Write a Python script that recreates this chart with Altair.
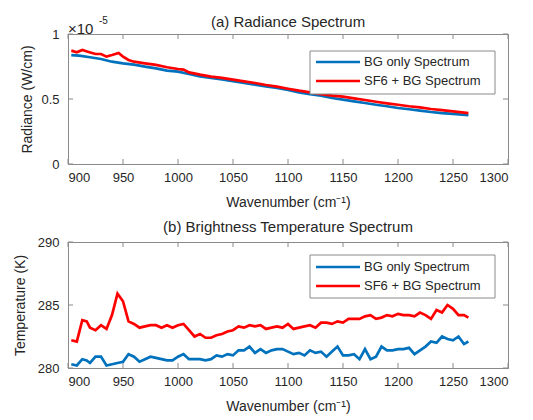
import altair as alt
import pandas as pd

# ---------------- data ----------------
series_names = ["BG only Spectrum", "SF6 + BG Spectrum"]
series_colors = ["#0072BD", "#FF0000"]

# (a) radiance, in units of 1e-5 W/cm
rad_bg_x = [903, 910, 920, 930, 940, 950, 960, 970, 980, 990, 1000, 1010, 1020, 1030,
            1040, 1050, 1060, 1070, 1080, 1090, 1100, 1110, 1120, 1130, 1140, 1150,
            1160, 1170, 1180, 1190, 1200, 1210, 1220, 1230, 1240, 1250, 1264]
rad_bg_y = [0.838, 0.833, 0.821, 0.808, 0.787, 0.774, 0.764, 0.749, 0.736, 0.718, 0.710,
            0.692, 0.674, 0.662, 0.651, 0.638, 0.623, 0.610, 0.597, 0.585, 0.569, 0.551,
            0.538, 0.526, 0.508, 0.495, 0.482, 0.469, 0.456, 0.444, 0.431, 0.421, 0.410,
            0.400, 0.392, 0.385, 0.375]
rad_sf_x = [903, 908, 913, 918, 925, 930, 935, 940, 946, 950, 955, 960, 970, 980, 990,
            1000, 1005, 1010, 1020, 1030, 1040, 1050, 1060, 1070, 1080, 1090, 1100, 1110,
            1120, 1130, 1140, 1150, 1160, 1170, 1180, 1190, 1200, 1210, 1220, 1230, 1240,
            1250, 1264]
rad_sf_y = [0.872, 0.859, 0.877, 0.864, 0.846, 0.846, 0.826, 0.838, 0.854, 0.826, 0.800,
            0.787, 0.774, 0.762, 0.744, 0.731, 0.726, 0.705, 0.687, 0.672, 0.662, 0.649,
            0.636, 0.623, 0.608, 0.595, 0.579, 0.564, 0.551, 0.538, 0.526, 0.518, 0.505,
            0.492, 0.479, 0.467, 0.456, 0.444, 0.436, 0.423, 0.415, 0.405, 0.392]

# (b) brightness temperature, K
bt_x = [903, 908, 913, 917, 920, 925, 930, 935, 940, 945, 950, 955, 960, 965, 970, 975,
        980, 985, 990, 995, 1000, 1005, 1010, 1015, 1020, 1025, 1030, 1035, 1040, 1045,
        1050, 1055, 1060, 1065, 1070, 1075, 1080, 1085, 1090, 1095, 1100, 1105, 1110,
        1115, 1120, 1125, 1130, 1135, 1140, 1145, 1150, 1155, 1160, 1165, 1170, 1175,
        1180, 1185, 1190, 1195, 1200, 1205, 1210, 1215, 1220, 1225, 1230, 1235, 1240,
        1245, 1250, 1255, 1260, 1264]
bt_bg = [280.3, 280.2, 280.7, 280.6, 280.4, 280.9, 280.9, 280.2, 280.3, 280.4, 280.5,
         281.1, 280.9, 280.5, 280.7, 280.9, 280.8, 280.7, 280.6, 280.6, 280.9, 281.1,
         280.7, 280.7, 280.7, 280.6, 280.7, 281.0, 280.9, 281.1, 281.0, 281.4, 281.4,
         281.7, 281.2, 281.5, 281.2, 281.4, 281.5, 281.5, 281.3, 281.1, 281.2, 281.0,
         281.4, 281.2, 281.3, 280.9, 281.3, 281.7, 281.0, 281.0, 281.1, 280.7, 281.5,
         280.7, 280.9, 281.7, 281.4, 281.4, 281.5, 281.5, 281.6, 281.1, 281.4, 281.7,
         282.1, 282.0, 282.5, 282.3, 282.2, 282.5, 281.9, 282.1]
bt_sf = [282.2, 282.1, 283.8, 283.7, 283.2, 283.0, 283.4, 283.1, 284.2, 285.9, 285.3,
         283.7, 283.5, 283.2, 283.3, 283.4, 283.4, 283.2, 283.4, 283.2, 283.4, 283.5,
         283.0, 282.5, 282.7, 282.4, 282.4, 282.6, 282.7, 282.9, 283.0, 283.3, 283.2,
         283.4, 283.3, 283.4, 283.1, 283.2, 283.3, 283.2, 283.5, 283.1, 283.2, 283.3,
         283.4, 283.2, 283.6, 283.6, 283.5, 283.7, 283.6, 283.9, 283.9, 283.9, 284.1,
         284.2, 283.9, 284.0, 284.2, 284.1, 284.3, 284.2, 284.2, 284.1, 284.4, 284.2,
         283.9, 284.6, 284.4, 285.0, 284.7, 284.2, 284.2, 284.0]

x_ticks = [900, 950, 1000, 1050, 1100, 1150, 1200, 1250, 1300]
rad_ticks = [0, 0.5, 1]
bt_ticks = [280, 285, 290]
titles = ["(a) Radiance Spectrum", "(b) Brightness Temperature Spectrum"]

# ---------------- style ----------------
FONT = "Liberation Sans"
AX = "#8a8a8a"
TXT = "#262626"
W = 440
H1, H2 = 130, 126
TICK = 5
LW = 2.7

rad_df = pd.concat([
    pd.DataFrame({"x": rad_bg_x, "y": rad_bg_y, "s": series_names[0]}),
    pd.DataFrame({"x": rad_sf_x, "y": rad_sf_y, "s": series_names[1]}),
])
bt_df = pd.concat([
    pd.DataFrame({"x": bt_x, "y": bt_bg, "s": series_names[0]}),
    pd.DataFrame({"x": bt_x, "y": bt_sf, "s": series_names[1]}),
])

xscale = alt.Scale(domain=[900, 1300], nice=False, zero=False)
xtitle = "Wavenumber (cm\u207b\u00b9)"


def text_layer(txt, x, y, size, align="left", baseline="alphabetic"):
    return alt.Chart(pd.DataFrame({"t": [txt]})).mark_text(
        align=align, baseline=baseline, fontSize=size, font=FONT, color=TXT).encode(
        x=alt.value(x), y=alt.value(y), text="t:N")


def legend_layers(box_top, first_y, step):
    one = pd.DataFrame({"a": [0]})
    layers = [alt.Chart(one).mark_rect(fill="white", stroke=AX, strokeWidth=1).encode(
        x=alt.value(242), x2=alt.value(427), y=alt.value(box_top), y2=alt.value(box_top + 43))]
    for i, (name, col) in enumerate(zip(series_names, series_colors)):
        yy = first_y + i * step
        layers.append(alt.Chart(one).mark_rule(color=col, strokeWidth=LW).encode(
            x=alt.value(248), x2=alt.value(292), y=alt.value(yy)))
        layers.append(text_layer(name, 296, yy, 13, baseline="middle"))
    return layers


def panel(df, yscale, yticks, ytitle, title, title_y, h, ytitle_pad, box_top, first_y):
    xaxis = alt.Axis(values=x_ticks, title=xtitle, tickSize=0, labelPadding=7,
                     titlePadding=11, grid=False, format="d")
    yaxis = alt.Axis(values=yticks, title=ytitle, tickSize=0, labelPadding=9,
                     titlePadding=ytitle_pad, grid=False, format="~g")
    color = alt.Color("s:N", scale=alt.Scale(domain=series_names, range=series_colors),
                      legend=None)
    lines = alt.Chart(df).mark_line(strokeWidth=LW, interpolate="linear").encode(
        x=alt.X("x:Q", scale=xscale, axis=xaxis),
        y=alt.Y("y:Q", scale=yscale, axis=yaxis),
        color=color,
        order="x:Q",
    )
    xt = pd.DataFrame({"t": x_ticks})
    yt = pd.DataFrame({"t": yticks})
    tb = alt.Chart(xt).mark_rule(color=AX, strokeWidth=1).encode(
        x=alt.X("t:Q", scale=xscale), y=alt.value(h), y2=alt.value(h - TICK))
    tt = alt.Chart(xt).mark_rule(color=AX, strokeWidth=1).encode(
        x=alt.X("t:Q", scale=xscale), y=alt.value(0), y2=alt.value(TICK))
    tl = alt.Chart(yt).mark_rule(color=AX, strokeWidth=1).encode(
        y=alt.Y("t:Q", scale=yscale), x=alt.value(0), x2=alt.value(TICK))
    tr = alt.Chart(yt).mark_rule(color=AX, strokeWidth=1).encode(
        y=alt.Y("t:Q", scale=yscale), x=alt.value(W), x2=alt.value(W - TICK))
    ttl = text_layer(title, W / 2, title_y, 15, align="center")
    return alt.layer(tb, tt, tl, tr, lines, *legend_layers(box_top, first_y, 19), ttl
                     ).properties(width=W, height=h)


top = panel(rad_df, alt.Scale(domain=[0, 1], nice=False), rad_ticks,
            "Radiance (W/cm)", titles[0], -7, H1, 6, 17, 28)
top = alt.layer(top, text_layer("\u00d710", 0, 0, 15), text_layer("-5", 31, -10, 10))

bottom = panel(bt_df, alt.Scale(domain=[280, 290], nice=False), bt_ticks,
               "Temperature (K)", titles[1], -10, H2, 10, 13, 25)

chart = alt.vconcat(top, bottom, spacing=9).properties(
    padding={"left": 4, "top": 6, "right": 5, "bottom": 0}, background="white"
).configure_view(stroke=AX, strokeWidth=1).configure_axis(
    domainColor=AX, labelColor=TXT, titleColor=TXT, labelFont=FONT, titleFont=FONT,
    labelFontSize=13, titleFontSize=14, titleFontWeight="normal"
)

chart.save("out.html", embed_options={"renderer": "svg", "actions": False})
